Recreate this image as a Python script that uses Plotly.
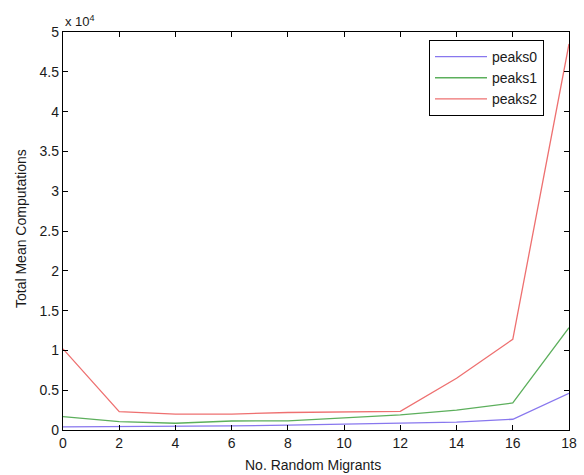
import plotly.graph_objects as go

migrants = [0, 2, 4, 6, 8, 10, 12, 14, 16, 18]
peaks0 = [400, 420, 500, 520, 600, 750, 850, 1000, 1350, 4600]
peaks1 = [1670, 1050, 850, 1130, 1150, 1550, 1900, 2500, 3400, 12850]
peaks2 = [10200, 2300, 2000, 2000, 2200, 2300, 2350, 6500, 11400, 48500]

ytick_vals = [0, 5000, 10000, 15000, 20000, 25000, 30000, 35000, 40000, 45000, 50000]
ytick_text = ["0", "0.5", "1", "1.5", "2", "2.5", "3", "3.5", "4", "4.5", "5"]
xtick_vals = [0, 2, 4, 6, 8, 10, 12, 14, 16, 18]

font = "Liberation Sans, Arial, Helvetica, sans-serif"
txt = "#1a1a1a"

fig = go.Figure()
fig.add_trace(go.Scatter(x=migrants, y=peaks0, mode="lines", name="peaks0",
                         line=dict(color="#8877ee", width=1.3)))
fig.add_trace(go.Scatter(x=migrants, y=peaks1, mode="lines", name="peaks1",
                         line=dict(color="#5caf5c", width=1.3)))
fig.add_trace(go.Scatter(x=migrants, y=peaks2, mode="lines", name="peaks2",
                         line=dict(color="#ee7070", width=1.3)))

axis_common = dict(showline=True, linecolor="black", linewidth=1.3, mirror="ticks",
                   ticks="inside", ticklen=5, tickcolor="black", tickwidth=1,
                   showgrid=False, zeroline=False, automargin=False,
                   tickfont=dict(family=font, size=14, color=txt))

fig.update_layout(
    width=584, height=475,
    margin=dict(l=63, r=15, t=32, b=45),
    paper_bgcolor="white", plot_bgcolor="white",
    font=dict(family=font, color=txt),
    xaxis=dict(range=[0, 18], tickvals=xtick_vals, **axis_common),
    yaxis=dict(range=[0, 50000], tickvals=ytick_vals, ticktext=ytick_text, **axis_common),
    legend=dict(x=0.9506, y=0.98, xanchor="right", yanchor="top",
                bordercolor="black", borderwidth=1, bgcolor="white",
                font=dict(family=font, size=14, color=txt),
                tracegroupgap=0, itemwidth=52),
    showlegend=True,
)
fig.add_annotation(text="x 10<sup>4</sup>", xref="paper", yref="paper", x=0, y=1,
                   xanchor="left", yanchor="bottom", showarrow=False, yshift=1,
                   font=dict(family=font, size=13, color=txt))
fig.add_annotation(text="No. Random Migrants", xref="paper", yref="paper",
                   x=0.495, y=0, xanchor="center", yanchor="middle", yshift=-35,
                   showarrow=False, font=dict(family=font, size=14, color=txt))
fig.add_annotation(text="Total Mean Computations", xref="paper", yref="paper",
                   x=0, y=0.505, xanchor="center", yanchor="middle", xshift=-42,
                   textangle=-90, showarrow=False,
                   font=dict(family=font, size=14, color=txt))

fig.write_html("out.html", config={"displayModeBar": False},
               post_script="document.body.style.margin='0px';document.body.style.overflow='hidden';")
